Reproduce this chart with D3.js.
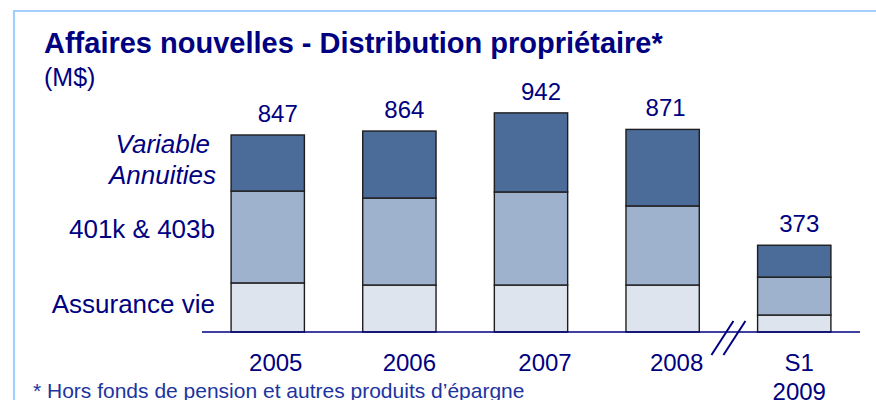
<!DOCTYPE html>
<html>
<head>
<meta charset="utf-8">
<script src="https://cdn.jsdelivr.net/npm/d3@7"></script>
<style>
  body { margin: 0; background: #fff; }
  svg { display: block; font-family: 'Liberation Sans', Arial, sans-serif; }
</style>
</head>
<body>
<svg width="876" height="400"></svg>
<script>
// data (M$)
const periods = ['2005', '2006', '2007', '2008', 'S1 2009'];
const assuranceVie = [211, 202, 202, 202, 73];
const retraite401k = [395, 374, 400, 340, 163];
const variableAnnuities = [241, 288, 340, 329, 137];
const totals = [847, 864, 942, 871, 373];

const seriesKeys = ['assurance', 'retraite', 'variable'];
const seriesColors = ['#dee4ed', '#9eb1cd', '#4b6b99'];

const navy = '#000080';
const width = 876, height = 400;

// the slide's text boxes are not quite centred on the bars
const totalNudge = [10, 5, 10, 3, 5];
const catNudge = [8, 10, 14, 14, 5];

const rows = periods.map((p, i) => ({
  period: p,
  assurance: assuranceVie[i],
  retraite: retraite401k[i],
  variable: variableAnnuities[i],
  total: totals[i],
}));

const svg = d3.select('svg');

// light blue frame at top and left
svg.append('path')
  .attr('d', `M14,${height} L14,11 L${width},11`)
  .attr('fill', 'none')
  .attr('stroke', '#a2cffb')
  .attr('stroke-width', 2.2);

svg.append('text')
  .attr('x', 44).attr('y', 53)
  .attr('font-size', 29).attr('font-weight', 'bold')
  .attr('fill', navy)
  .text('Affaires nouvelles - Distribution propriétaire*');

svg.append('text')
  .attr('x', 44).attr('y', 86)
  .attr('font-size', 25)
  .attr('fill', navy)
  .text('(M$)');

const x = d3.scaleBand()
  .domain(periods)
  .range([202, 860])
  .paddingInner(0.443)
  .paddingOuter(0.221);

const y = d3.scaleLinear()
  .domain([0, 1000])
  .range([332, 99.4]);

const stack = d3.stack().keys(seriesKeys);
const layers = stack(rows);

const gBars = svg.append('g');
gBars.selectAll('g')
  .data(layers)
  .join('g')
  .attr('fill', (d, i) => seriesColors[i])
  .selectAll('rect')
  .data((d) => d)
  .join('rect')
  .attr('x', (d) => x(d.data.period))
  .attr('y', (d) => y(d[1]))
  .attr('width', x.bandwidth())
  .attr('height', (d) => y(d[0]) - y(d[1]))
  .attr('stroke', '#1e1e1e')
  .attr('stroke-width', 1.4);

// totals above bars
svg.append('g')
  .selectAll('text')
  .data(rows)
  .join('text')
  .attr('x', (d, i) => x(d.period) + x.bandwidth() / 2 + totalNudge[i])
  .attr('y', (d) => y(d.total) - 13)
  .attr('text-anchor', 'middle')
  .attr('font-size', 24)
  .attr('fill', navy)
  .text((d) => d.total);

// baseline
svg.append('line')
  .attr('x1', x.range()[0]).attr('x2', x.range()[1])
  .attr('y1', y(0)).attr('y2', y(0))
  .attr('stroke', navy)
  .attr('stroke-width', 1.6);

// category labels (S1 2009 on two lines)
const cat = svg.append('g')
  .selectAll('text')
  .data(periods)
  .join('text')
  .attr('y', 371)
  .attr('text-anchor', 'middle')
  .attr('font-size', 24)
  .attr('fill', navy);
cat.each(function (d, i) {
  const cx = x(d) + x.bandwidth() / 2 + catNudge[i];
  d3.select(this).selectAll('tspan')
    .data(d.split(' '))
    .join('tspan')
    .attr('x', cx)
    .attr('dy', (p, j) => (j === 0 ? 0 : 29))
    .text((p) => p);
});

// axis break marks between 2008 and S1 2009
const breakX = (x('2008') + x.bandwidth() + x('S1 2009')) / 2;
[-6, 6].forEach((off) => {
  svg.append('line')
    .attr('x1', breakX + off - 11).attr('y1', y(0) + 23)
    .attr('x2', breakX + off + 11).attr('y2', y(0) - 11)
    .attr('stroke', navy)
    .attr('stroke-width', 2);
});

// series labels left of the first bar
const labels = svg.append('g')
  .attr('font-size', 26)
  .attr('fill', navy)
  .attr('text-anchor', 'end');
labels.append('text').attr('x', 210).attr('y', 153)
  .attr('font-style', 'italic').text('Variable');
labels.append('text').attr('x', 216).attr('y', 184)
  .attr('font-style', 'italic').text('Annuities');
labels.append('text').attr('x', 215).attr('y', 238).text('401k & 403b');
labels.append('text').attr('x', 215).attr('y', 313).text('Assurance vie');

svg.append('text')
  .attr('x', 33).attr('y', 398)
  .attr('font-size', 21)
  .attr('fill', '#1c34a0')
  .text('* Hors fonds de pension et autres produits d’épargne');
</script>
</body>
</html>
